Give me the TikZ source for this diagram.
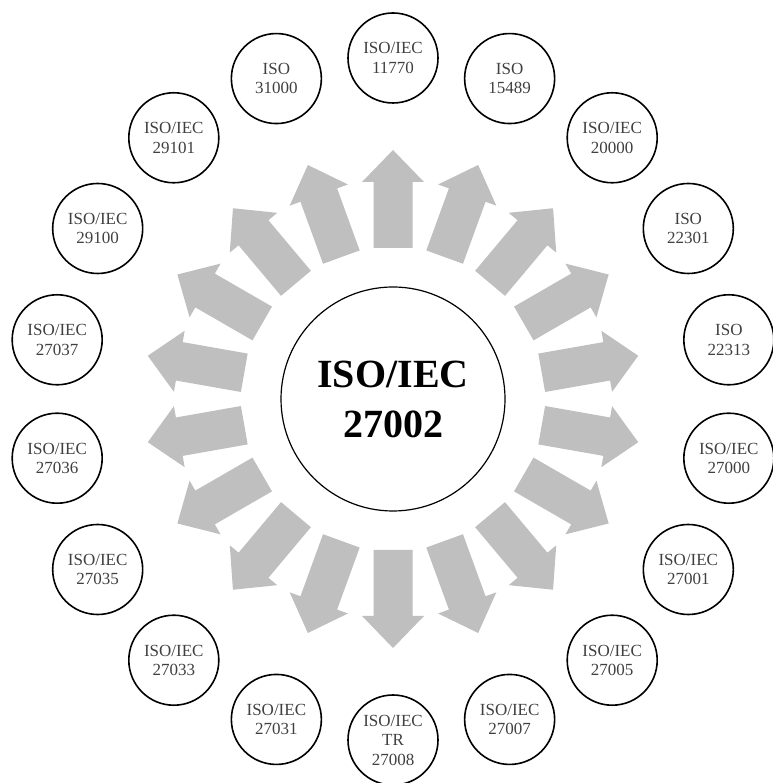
\documentclass[tikz,border=0pt]{standalone}
\usepackage{fontspec}
\setmainfont{Liberation Serif}
\usetikzlibrary{positioning, calc}
\definecolor{arrowgray}{HTML}{BFBFBF}
\definecolor{labelgray}{HTML}{404040}
\tikzset{
  stdcircle/.style={draw=black, line width=1.6pt, circle, minimum size=90pt, inner sep=0pt, align=center, text=labelgray, font=\fontsize{17}{19.5}\selectfont},
  corecircle/.style={draw=black, line width=1.2pt, circle, minimum size=224pt, inner sep=0pt, align=center, font=\fontsize{40}{50}\selectfont\bfseries},
  blockarrow/.style={fill=arrowgray}
}
\begin{document}
\begin{tikzpicture}[x=1pt, y=1pt]
  \useasboundingbox (0,0) rectangle (772,783);

  % Norma central
  \node[corecircle] (core) at (393,384) {ISO/IEC\\27002};

  % Flechas hacia afuera
  \begin{scope}[shift={(core.center)}]
    \foreach \a in {10,30,...,350}
      \fill[blockarrow, rotate=\a] (151,-19.5) -- (217,-19.5) -- (217,-31) -- (249,0) -- (217,31) -- (217,19.5) -- (151,19.5) -- cycle;
  \end{scope}

  % Normas relacionadas
  \foreach \lbl [count=\i] in {{ISO/IEC\\11770}, {ISO\\15489}, {ISO/IEC\\20000}, {ISO\\22301}, {ISO\\22313}, {ISO/IEC\\27000}, {ISO/IEC\\27001}, {ISO/IEC\\27005}, {ISO/IEC\\27007}, {ISO/IEC\\TR\\27008}, {ISO/IEC\\27031}, {ISO/IEC\\27033}, {ISO/IEC\\27035}, {ISO/IEC\\27036}, {ISO/IEC\\27037}, {ISO/IEC\\29100}, {ISO/IEC\\29101}, {ISO\\31000}}
    \node[stdcircle] (std\i) at ($(core.center)+({110-20*\i}:341)$) {\lbl};
\end{tikzpicture}
\end{document}
